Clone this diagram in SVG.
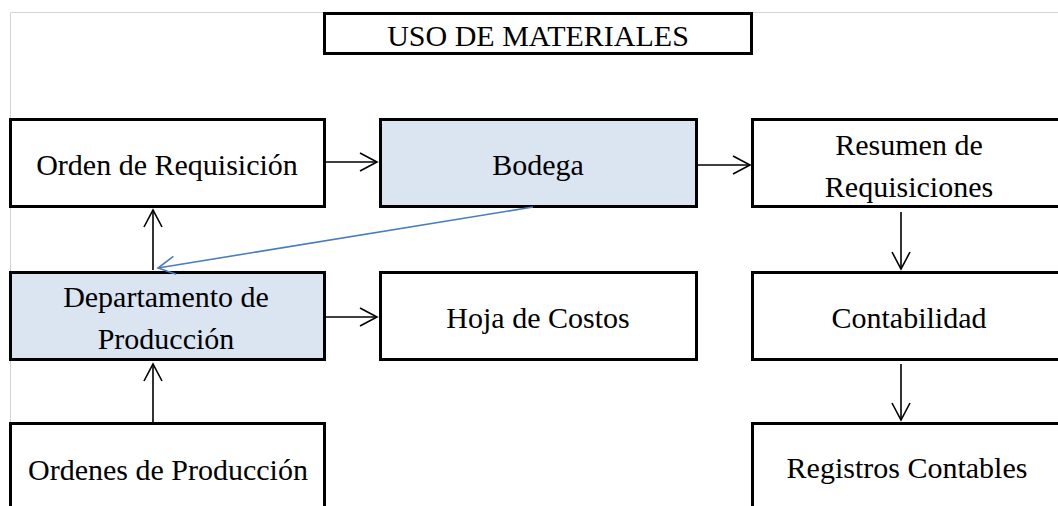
<svg xmlns="http://www.w3.org/2000/svg" width="1058" height="506" viewBox="0 0 1058 506">
<defs>
<style>
.box{fill:#ffffff;stroke:#000;stroke-width:3}
.blue{fill:#dbe5f1}
.t{font-family:"Liberation Serif","Times New Roman",serif;font-size:30px;fill:#000;text-anchor:middle}
.c{stroke:#000;stroke-width:1.6;fill:none}
.cb{stroke:#4a7ebb;stroke-width:1.6;fill:none}
</style>
<marker id="ah" viewBox="0 0 20 20" refX="18" refY="10" markerWidth="20" markerHeight="20" markerUnits="userSpaceOnUse" orient="auto">
<path d="M1,1 L18,10 L1,19" fill="none" stroke="#000" stroke-width="1.6"/>
</marker>
<marker id="ahb" viewBox="0 0 20 20" refX="18" refY="10" markerWidth="20" markerHeight="20" markerUnits="userSpaceOnUse" orient="auto">
<path d="M1,1 L18,10 L1,19" fill="none" stroke="#4a7ebb" stroke-width="1.6"/>
</marker>
</defs>
<rect width="1058" height="506" fill="#ffffff"/>
<g id="frame"><path d="M10.5,506 V12.5 H1058" fill="none" stroke="#d4d4d4" stroke-width="1"/></g>
<g id="title"><rect class="box" x="324.5" y="13.5" width="427" height="40"/><text class="t" x="538" y="46">USO DE MATERIALES</text></g>
<g id="orden"><rect class="box" x="10.5" y="119.5" width="314" height="87"/><text class="t" x="167" y="175">Orden de Requisición</text></g>
<g id="bodega"><rect class="box blue" x="380.5" y="119.5" width="316" height="87"/><text class="t" x="538" y="175">Bodega</text></g>
<g id="resumen"><rect class="box" x="752.5" y="119.5" width="320" height="87"/><text class="t" x="909" y="155">Resumen de</text><text class="t" x="909" y="197">Requisiciones</text></g>
<g id="depto"><rect class="box blue" x="10.5" y="272.5" width="314" height="87"/><text class="t" x="166" y="307">Departamento de</text><text class="t" x="166" y="349">Producción</text></g>
<g id="hoja"><rect class="box" x="380.5" y="272.5" width="316" height="87"/><text class="t" x="538" y="328">Hoja de Costos</text></g>
<g id="contabilidad"><rect class="box" x="752.5" y="272.5" width="320" height="87"/><text class="t" x="909" y="328">Contabilidad</text></g>
<g id="ordenes"><rect class="box" x="10.5" y="423.5" width="314" height="100"/><text class="t" x="168" y="480">Ordenes de Producción</text></g>
<g id="registros"><rect class="box" x="752.5" y="423.5" width="320" height="100"/><text class="t" x="907" y="478">Registros Contables</text></g>
<g id="connectors">
<line class="c" x1="326" y1="162" x2="377" y2="162" marker-end="url(#ah)"/>
<line class="c" x1="698" y1="165" x2="750" y2="165" marker-end="url(#ah)"/>
<line class="c" x1="326" y1="317" x2="377" y2="317" marker-end="url(#ah)"/>
<line class="c" x1="153" y1="270" x2="153" y2="210" marker-end="url(#ah)"/>
<line class="c" x1="153" y1="422" x2="153" y2="364" marker-end="url(#ah)"/>
<line class="c" x1="901" y1="212" x2="901" y2="269" marker-end="url(#ah)"/>
<line class="c" x1="901" y1="364" x2="901" y2="420" marker-end="url(#ah)"/>
<line class="cb" x1="533" y1="207" x2="158" y2="268" marker-end="url(#ahb)"/>
</g>
</svg>
